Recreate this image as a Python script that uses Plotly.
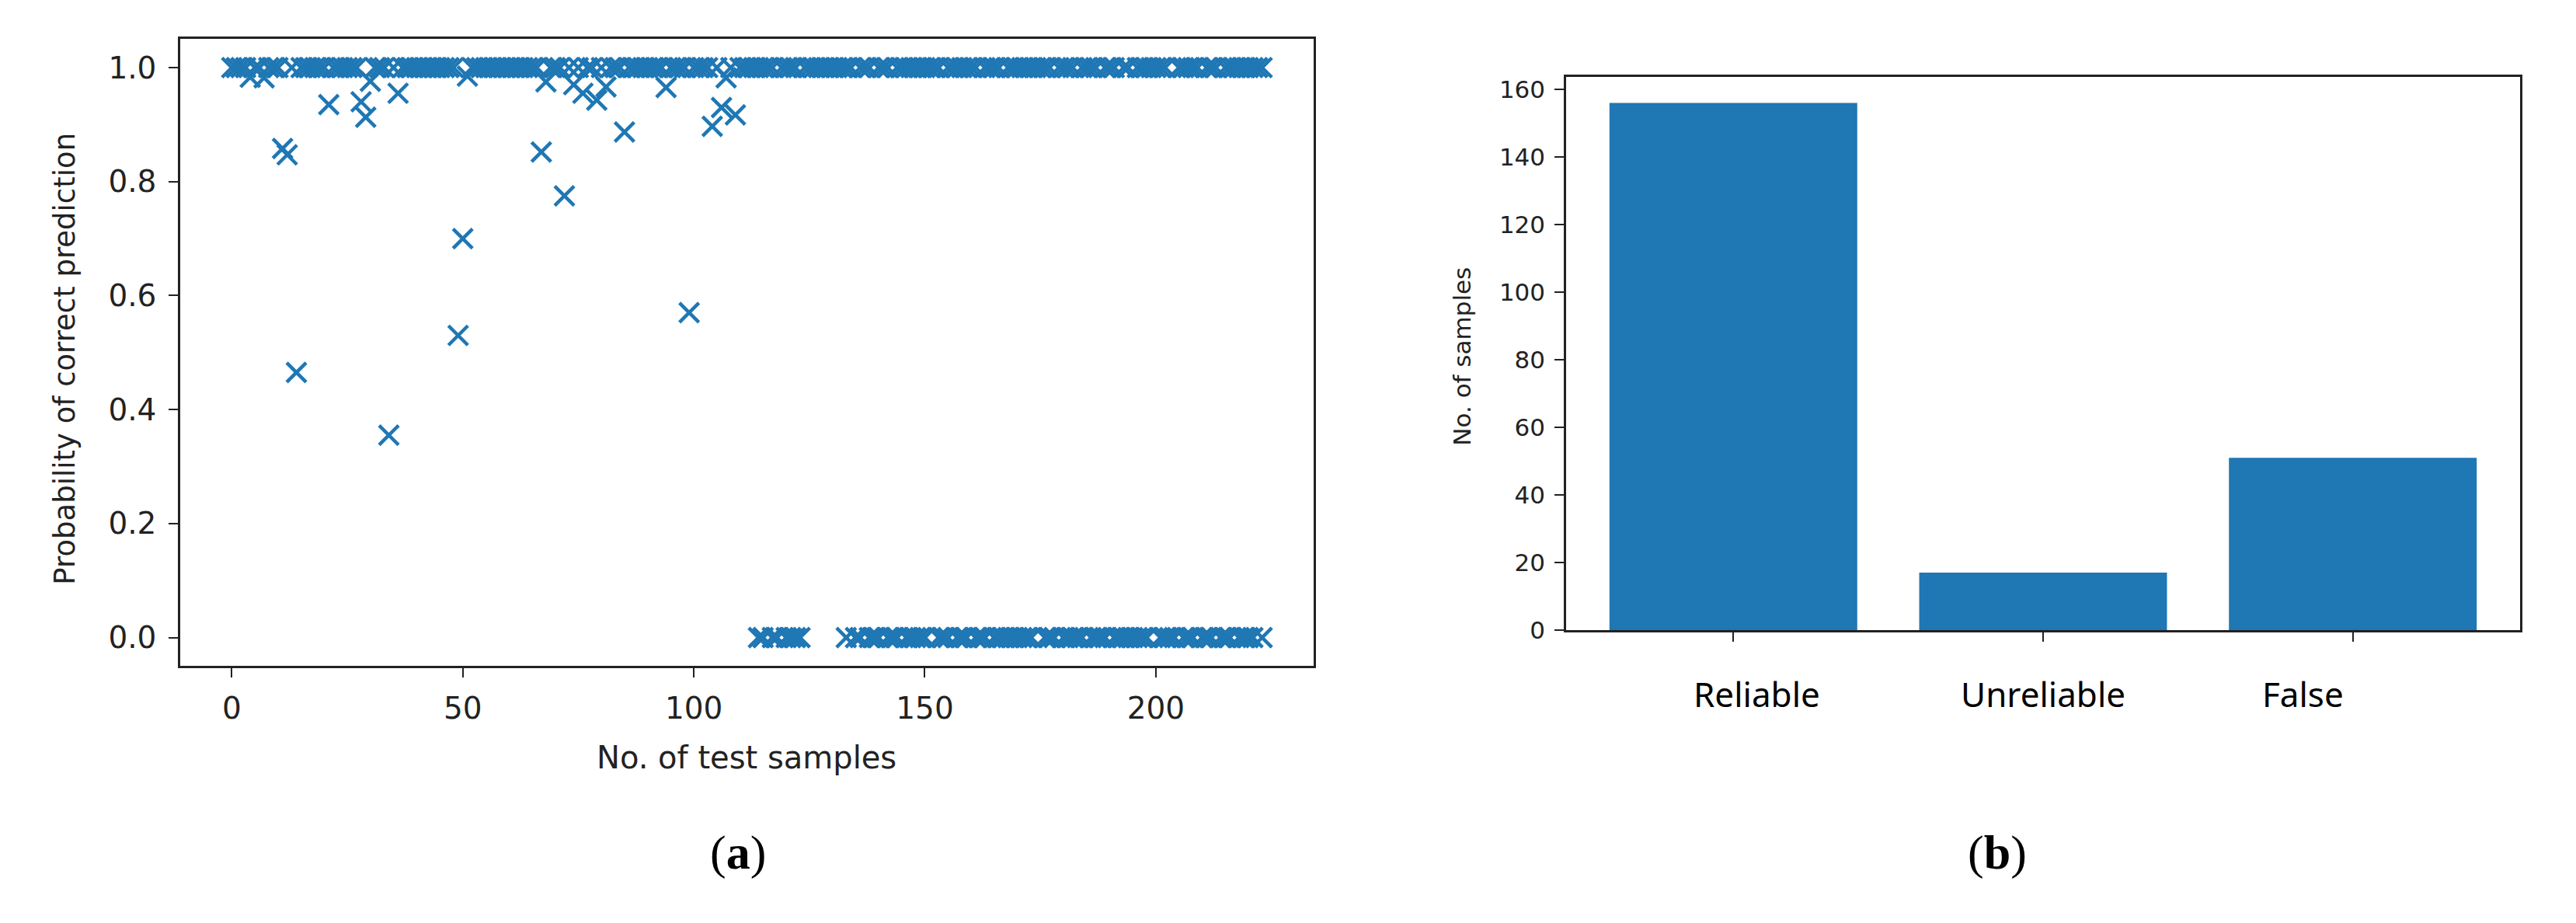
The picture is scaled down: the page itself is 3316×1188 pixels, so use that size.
import plotly.graph_objects as go

# ---------------- data: panel (a) ----------------
# test-sample indices whose probability of correct prediction is ~1.0
top_idx = [0, 1, 2, 3, 5, 6, 8, 9, 10, 13, 15, 16, 17, 18, 19, 20, 22, 23, 24, 25, 26, 27,
           31, 32, 33, 35, 37, 38, 39, 40, 41, 42, 43, 44, 45, 46, 47, 48, 52, 53, 54, 55,
           56, 57, 58, 59, 60, 61, 62, 63, 64, 65, 66, 69, 70, 71, 73, 75, 77, 78, 80, 82,
           83, 84, 86, 87, 88, 89, 90, 91, 92, 93, 95, 96, 97, 98, 100, 101, 102, 103, 105,
           108, 110, 111, 112, 113, 114, 115, 116, 117, 119, 120, 121, 122, 124, 125, 126,
           127, 128, 129, 130, 131, 132, 133, 134, 136, 137, 138, 140, 141, 142, 144, 145,
           146, 147, 148, 149, 150, 151, 152, 153, 155, 156, 157, 158, 159, 160, 161, 163,
           164, 165, 166, 168, 169, 170, 171, 172, 173, 174, 175, 176, 177, 179, 180, 181,
           182, 184, 185, 186, 187, 189, 190, 191, 193, 194, 196, 197, 198, 199, 200, 201,
           202, 205, 206, 207, 208, 209, 211, 212, 213, 215, 216, 217, 218, 219, 220, 221,
           222, 223]
top_prob = 1.0

# test-sample indices whose probability of correct prediction is ~0.0
bottom_idx = [114, 115, 117, 118, 120, 121, 122, 123,
              133, 135, 136, 138, 139, 140, 142, 143, 144, 146, 147, 148, 149, 150, 153,
              154, 155, 157, 158, 159, 161, 162, 163, 165, 166, 167, 168, 169, 170, 171,
              172, 173, 176, 177, 178, 180, 181, 182, 183, 184, 186, 187, 188, 189, 191,
              192, 193, 194, 195, 196, 197, 198, 201, 202, 203, 204, 206, 207, 208, 210,
              211, 212, 214, 215, 216, 218, 219, 220, 221, 223]
bottom_prob = 0.0

# intermediate probabilities
outlier_idx = [4, 7, 11, 12, 14, 21, 28, 29, 30, 34, 36, 49, 50, 51, 67, 68, 72, 74, 76,
               79, 81, 85, 94, 99, 104, 106, 107, 109]
outlier_prob = [0.983, 0.982, 0.858, 0.847, 0.465, 0.935, 0.94, 0.913, 0.976, 0.355, 0.955,
                0.53, 0.70, 0.985, 0.852, 0.975, 0.775, 0.97, 0.955, 0.943, 0.966, 0.887,
                0.965, 0.57, 0.897, 0.93, 0.982, 0.917]

x_ticks_a = [0, 50, 100, 150, 200]
y_ticks_a = [0.0, 0.2, 0.4, 0.6, 0.8, 1.0]

# ---------------- data: panel (b) ----------------
categories = ["Reliable", "Unreliable", "False"]
counts = [156, 17, 51]
y_ticks_b = [0, 20, 40, 60, 80, 100, 120, 140, 160]

# ---------------- figure ----------------
W, H = 3316, 1188
BLUE = "#1f77b4"
INK = "#222222"


def px(x):
    return x / W


def py(y):
    return 1 - y / H


xs = top_idx + bottom_idx + outlier_idx
ys = [top_prob] * len(top_idx) + [bottom_prob] * len(bottom_idx) + outlier_prob

fig = go.Figure()
fig.add_trace(go.Scatter(
    x=xs, y=ys, mode="markers", xaxis="x", yaxis="y", showlegend=False,
    marker=dict(symbol="x-thin", size=25, color=BLUE, line=dict(width=4.5, color=BLUE)),
))
fig.add_trace(go.Bar(
    x=categories, y=counts, width=0.8, xaxis="x2", yaxis="y2", showlegend=False,
    marker=dict(color=BLUE, line=dict(width=0)),
))

axis_common = dict(
    showline=True, mirror=True, linecolor=INK, linewidth=2.5,
    ticks="outside", ticklen=12, tickwidth=2, tickcolor=INK,
    showgrid=False, zeroline=False,
)
font_a = dict(family="DejaVu Sans", size=39, color=INK)
font_b = dict(family="DejaVu Sans", size=31, color=INK)

fig.update_layout(
    width=W, height=H,
    margin=dict(l=0, r=0, t=0, b=0),
    paper_bgcolor="white", plot_bgcolor="white",
    bargap=0.2,
    xaxis=dict(domain=[px(224), px(1683)], range=[-11.15, 234.15], tickvals=x_ticks_a,
               tickfont=font_a, anchor="y", ticklabelstandoff=6, **axis_common),
    yaxis=dict(domain=[py(862), py(42)], range=[-0.05, 1.05], tickvals=y_ticks_a,
               tickformat=".1f", tickfont=font_a, anchor="x", ticklabelstandoff=8,
               **axis_common),
    xaxis2=dict(domain=[px(2008), px(3236)], range=[-0.54, 2.54], showticklabels=False,
                anchor="y2", **axis_common),
    yaxis2=dict(domain=[py(815), py(91)], range=[0, 163.8], tickvals=y_ticks_b,
                tickfont=font_b, anchor="x2", ticklabelstandoff=6, **axis_common),
)

ann = []
# axis titles panel (a)
ann.append(dict(text="No. of test samples", xref="paper", yref="paper",
                x=px(953), y=py(982), xanchor="center", yanchor="middle",
                showarrow=False, font=dict(family="DejaVu Sans", size=40, color=INK)))
ann.append(dict(text="Probability of correct prediction", xref="paper", yref="paper",
                x=px(76), y=py(460), xanchor="center", yanchor="middle", textangle=-90,
                showarrow=False, font=dict(family="DejaVu Sans", size=37, color=INK)))
# axis title panel (b)
ann.append(dict(text="No. of samples", xref="paper", yref="paper",
                x=px(1874), y=py(457), xanchor="center", yanchor="middle", textangle=-90,
                showarrow=False, font=dict(family="DejaVu Sans", size=31, color=INK)))
# category labels panel (b)
label_shift = {"Reliable": 30, "Unreliable": 0, "False": -64}
for c in categories:
    ann.append(dict(text=c, xref="x2", yref="paper", x=c, y=py(898),
                    xshift=label_shift[c], xanchor="center", yanchor="middle",
                    showarrow=False, font=dict(family="Noto Sans", size=44, color="black")))
# panel letters
for letter, cx in (("a", 942), ("b", 2563)):
    ann.append(dict(text="(<b>%s</b>)" % letter, xref="paper", yref="paper",
                    x=px(cx), y=py(1106), xanchor="center", yanchor="middle",
                    showarrow=False,
                    font=dict(family="Liberation Serif", size=62, color="black")))
fig.update_layout(annotations=ann)

fig.write_html("out.html", config={"displayModeBar": False})
